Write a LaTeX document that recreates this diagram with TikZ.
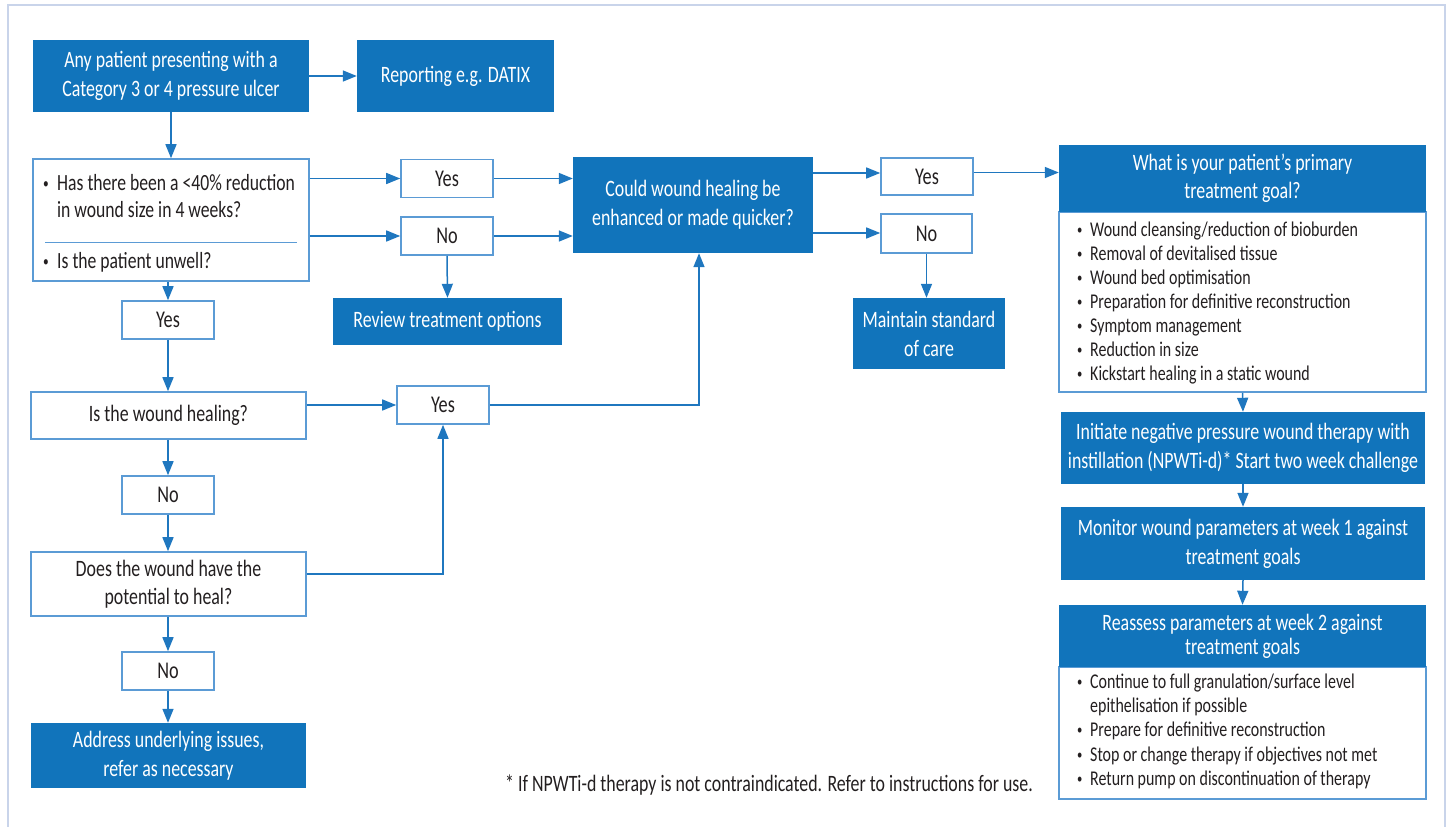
\documentclass[tikz,border=0pt]{standalone}
\usepackage{fontspec}
\setmainfont{Carlito}[FakeStretch=0.76]
\usetikzlibrary{arrows.meta,calc}
\definecolor{fillblue}{HTML}{1174BB}
\definecolor{lineblue}{HTML}{5B9BD5}
\definecolor{arrblue}{HTML}{1F77BF}
\definecolor{framecol}{HTML}{C9D4EA}
\definecolor{txt}{HTML}{231F20}
\tikzset{
  fbox/.style={fill=fillblue, text=white, inner sep=0pt, align=center, font=\fontsize{23.5}{29}\selectfont},
  wbox/.style={draw=lineblue, line width=1.6pt, fill=white, text=txt, inner sep=0pt, align=center, font=\fontsize{23.5}{28}\selectfont},
  ynbox/.style={wbox, font=\fontsize{24}{29}\selectfont, minimum width=92pt, minimum height=38pt},
  arr/.style={draw=arrblue, line width=1.5pt, -{Triangle[length=14pt,width=11pt]}},
  litem/.style={anchor=base west, inner sep=0pt, text=txt, font=\fontsize{21}{24}\selectfont},
  qitem/.style={anchor=base west, inner sep=0pt, text=txt, font=\fontsize{23.2}{27}\selectfont},
}
\newcommand{\bul}{\makebox[13pt][l]{\raisebox{2pt}{\fontsize{14}{14}\selectfont\textbullet}}}
\newcommand{\qbul}{\makebox[14pt][l]{\raisebox{2pt}{\fontsize{15}{15}\selectfont\textbullet}}}
\begin{document}
\begin{tikzpicture}[x=1pt,y=-1pt]
\useasboundingbox (0,0) rectangle (1451,827);
\draw[framecol, line width=2.5pt] (8,830) -- (8,5) -- (1445,5) -- (1445,830);

% left column
\node[fbox, minimum width=276pt, minimum height=72pt] (start) at (171,76) {Any patient presenting with a\\Category 3 or 4 pressure ulcer};
\node[fbox, minimum width=197pt, minimum height=72pt] (report) at (455.5,76) {Reporting e.g. DATIX};
\node[wbox, minimum width=276pt, minimum height=122pt] (q1) at (171,220) {};
\node[qitem] (q1a) at (43,190) {\qbul Has there been a <40\% reduction};
\node[qitem] (q1b) at (57,217) {in wound size in 4 weeks?};
\node[qitem] (q1c) at (43,268) {\qbul Is the patient unwell?};
\draw[lineblue, line width=1.2pt] (45,242.7) -- (297,242.7);

\node[ynbox] (yes1) at (447,178.5) {Yes};
\node[ynbox] (no1) at (447,236) {No};
\node[fbox, minimum width=229pt, minimum height=47pt] (review) at (447.5,321.5) {Review treatment options};

\node[ynbox] (yes3) at (168,320) {Yes};
\node[wbox, minimum width=275pt, minimum height=47pt] (heal) at (168.5,415.5) {Is the wound healing?};
\node[ynbox] (yes4) at (443,405) {Yes};
\node[ynbox] (no3) at (168,495) {No};
\node[wbox, minimum width=275pt, minimum height=64pt] (pot) at (168.5,584) {Does the wound have the\\potential to heal?};
\node[ynbox] (no4) at (168,671) {No};
\node[fbox, minimum width=275pt, minimum height=65pt] (addr) at (168.5,755.5) {Address underlying issues,\\refer as necessary};

% middle
\node[fbox, minimum width=240pt, minimum height=96pt] (could) at (693,205) {Could wound healing be\\enhanced or made quicker?};
\node[ynbox, minimum height=37pt] (yes2) at (927,176.5) {Yes};
\node[ynbox, minimum width=91pt, minimum height=39pt] (no2) at (926.5,233.5) {No};
\node[fbox, minimum width=152pt, minimum height=71pt] (maint) at (929,333.5) {Maintain standard\\of care};

% right column
\node[wbox, minimum width=367pt, minimum height=180pt] (goall) at (1242.5,302) {};
\node[fbox, minimum width=367pt, minimum height=67pt, font=\fontsize{23.5}{28}\selectfont] (goalh) at (1242.5,178.5) {What is your patient’s primary\\treatment goal?};
\foreach \t [count=\i from 0] in {Wound cleansing/reduction of bioburden, Removal of devitalised tissue, Wound bed optimisation, Preparation for definitive reconstruction, Symptom management, Reduction in size, Kickstart healing in a static wound}
  \node[litem] (g\i) at (1077,236.5+24*\i) {\bul\t};

\node[fbox, minimum width=364pt, minimum height=72pt, font=\fontsize{23.5}{28.5}\selectfont] (init) at (1243,448) {Initiate negative pressure wound therapy with\\instillation (NPWTi-d)* Start two week challenge};
\node[fbox, minimum width=364pt, minimum height=73pt] (mon) at (1243,543.5) {Monitor wound parameters at week 1 against\\treatment goals};
\node[wbox, minimum width=367pt, minimum height=132pt] (reasl) at (1242.5,733) {};
\node[fbox, minimum width=367pt, minimum height=62pt, font=\fontsize{23.5}{24}\selectfont] (reash) at (1242.5,636) {Reassess parameters at week 2 against\\treatment goals};
\node[litem] (r0) at (1077,688.3) {\bul Continue to full granulation/surface level};
\node[litem] (r1) at (1090,712.5) {epithelisation if possible};
\node[litem] (r2) at (1077,736.7) {\bul Prepare for definitive reconstruction};
\node[litem] (r3) at (1077,761) {\bul Stop or change therapy if objectives not met};
\node[litem] (r4) at (1077,785) {\bul Return pump on discontinuation of therapy};

\node[litem, font=\fontsize{23.5}{28}\selectfont] (fn) at (505,791.5) {* If NPWTi-d therapy is not contraindicated. Refer to instructions for use.};

% helper coordinates
\coordinate (cy) at ($(could.east)+(0,-32)$);
\coordinate (cn) at ($(could.east)+(0,28)$);
\coordinate (yg) at ($(yes2.east)+(0,-4)$);
\coordinate (pe) at ($(pot.east)+(0,-10)$);
\coordinate (cb) at ($(could.south)+(6,0)$);

% connectors
\draw[arr] (start.east) -- (report.west);
\draw[arr] (start.south) -- (q1.north);
\draw[arr] (yes1.west -| q1.east) -- (yes1.west);
\draw[arr] (no1.west -| q1.east) -- (no1.west);
\draw[arr] (yes1.east) -- (yes1.east -| could.west);
\draw[arr] (no1.east) -- (no1.east -| could.west);
\draw[arr] (no1.south) -- (review.north);
\draw[arr] (yes3.north |- q1.south) -- (yes3.north);
\draw[arr] (yes3.south) -- (yes3.south |- heal.north);
\draw[arr] (yes4.west -| heal.east) -- (yes4.west);
\draw[arr] (no3.north |- heal.south) -- (no3.north);
\draw[arr] (no3.south) -- (no3.south |- pot.north);
\draw[arr] (no4.north |- pot.south) -- (no4.north);
\draw[arr] (no4.south) -- (no4.south |- addr.north);
\draw[arr] (pe) -| (yes4.south);
\draw[arr] (yes4.east) -| (cb);
\draw[arr] (cy) -- (cy -| yes2.west);
\draw[arr] (cn) -- (cn -| no2.west);
\draw[arr] (yg) -- (yg -| goalh.west);
\draw[arr] (no2.south) -- (no2.south |- maint.north);
\draw[arr] (goall.south) -- (init.north);
\draw[arr] (init.south) -- (mon.north);
\draw[arr] (mon.south) -- (reash.north);
\end{tikzpicture}
\end{document}
